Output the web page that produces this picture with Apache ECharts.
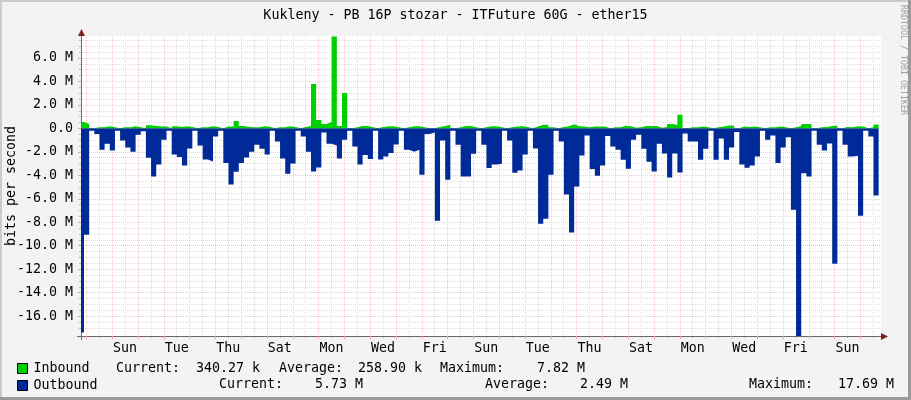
<!DOCTYPE html>
<html>
<head>
<meta charset="utf-8">
<title>Kukleny - ether15</title>
<script src="https://cdn.jsdelivr.net/npm/echarts@6/dist/echarts.min.js"></script>
<style>
html,body{margin:0;padding:0;background:#f3f3f3;}
#chart{width:911px;height:400px;}
</style>
</head>
<body>
<div id="chart"></div>
<script>
// one sample every 4.8 hours, values in Mbit/s
var slotHours = 4.8;
var inbound = [
    0.55,0.38,0.02,0.1,0.1,0.18,0.1,0,0.1,0.1,0.18,0.1,0.02,0.27,0.2,0.15,0.15,0,0.18,0.12,
    0.18,0.12,0,0.1,0.1,0.18,0.12,0,0.15,0.15,0.62,0.2,0.12,0.1,0.1,0.18,0.14,0,0.1,0.1,
    0.18,0.12,0,0.12,0.2,3.79,0.72,0.38,0.55,7.82,0.21,3.02,0,0.1,0.2,0.2,0.1,0,0.12,0.18,
    0.18,0.1,0,0.1,0.18,0.18,0.1,0.02,0.02,0.12,0.2,0.3,0,0.1,0.2,0.2,0.1,0,0.1,0.18,
    0.18,0.1,0,0.1,0.15,0.18,0.12,0,0.15,0.3,0.3,0.1,0,0.12,0.18,0.35,0.18,0.15,0.1,0.15,
    0.15,0.15,0.02,0.1,0.1,0.22,0.18,0.05,0.1,0.2,0.2,0.2,0.05,0.12,0.38,0.3,1.15,0,0.1,0.1,
    0.15,0.1,0,0.1,0.15,0.25,0.25,0,0.15,0.12,0.15,0.1,0,0.1,0.1,0.15,0.1,0,0.1,0.2,
    0.38,0.38,0.02,0.1,0.12,0.2,0.25,0,0.12,0.1,0.18,0.15,0,0.1,0.34
];
var outbound = [
    -17.4,-9.06,-0.2,-0.47,-1.83,-1.32,-1.88,-0.2,-1.03,-1.63,-2,-0.55,-0.25,-2.5,-4.1,-3.08,-0.98,-0.2,-2.23,-2.43,
    -3.16,-1.72,-0.2,-1.46,-2.65,-2.82,-0.7,-0.2,-2.94,-4.78,-3.7,-2.94,-2.48,-2,-1.4,-1.74,-2.23,-0.2,-1.12,-2.57,
    -3.87,-3,-0.2,-0.7,-2,-3.67,-3.33,-0.35,-1.32,-1.46,-2.57,-0.98,-0.2,-1.55,-3.08,-2.26,-2.62,-0.2,-2.65,-2.4,
    -2.1,-1.38,-0.2,-1.83,-2,-1.83,-3.96,-0.47,-0.35,-7.87,-1.04,-4.38,-0.2,-1.4,-4.1,-4.1,-2.17,-0.2,-1.4,-3.37,
    -3.08,-3.02,-0.2,-1.04,-3.79,-3.59,-2.23,-0.2,-1.72,-8.13,-7.7,-3.96,-0.2,-1.12,-5.63,-8.87,-4.95,-2.31,-0.6,-3.47,
    -4.04,-3.16,-0.65,-1.55,-1.83,-2.68,-3.45,-0.98,-0.55,-1.74,-2.85,-3.67,-1.32,-2.14,-4.18,-2.14,-3.76,-0.44,-1.12,-1.12,
    -2.68,-1.74,-0.2,-2.68,-0.87,-2.68,-1.63,-0.3,-3.08,-3.36,-3.16,-2.4,-0.2,-0.98,-0.6,-2.94,-1.63,-0.75,-6.94,-17.69,
    -3.82,-4.1,-0.2,-1.4,-1.89,-1.29,-11.53,-0.2,-1.4,-2.4,-2.34,-7.45,-0.2,-0.7,-5.72
];
var dayLabels = ["Sun","Tue","Thu","Sat","Mon","Wed","Fri","Sun","Tue","Thu","Sat","Mon","Wed","Fri","Sun"];
var yLabelValues = [6,4,2,0,-2,-4,-6,-8,-10,-12,-14,-16];
var inboundStats = ["340.27 k","258.90 k","7.82 M"];
var outboundStats = ["5.73 M","2.49 M","17.69 M"];

var monoFont = '"DejaVu Sans Mono", monospace';
var fontSize = 13.3;

function toPoints(values){
    var pts = [];
    for(var i=0;i<values.length;i++){
        pts.push([i*slotHours,values[i]]);
    }
    // close off the last step
    pts.push([values.length*slotHours,values[values.length-1]]);
    return pts;
}

var midnights=[],noons=[],labelHours=[];
for(var d=0;d<31;d++){
    midnights.push(7+24*d);
    noons.push(19+24*d);
}
for(var l=0;l<dayLabels.length;l++){
    labelHours.push(43+48*l);
}
var yMinor=[];
for(var v=-17;v<=7.5;v+=0.5){
    if(v%2!==0) yMinor.push(v);
}

function statText(text,x,y){
    return {type:"text",x:x,y:y,style:{text:text,fill:"#000",font:fontSize+"px "+monoFont,textVerticalAlign:"middle"}};
}

var myChart=echarts.init(document.getElementById("chart"));
var xRange={min:2.02,max:746.2};
var yRange={min:-17.69,max:7.87};

var option={
    animation:false,
    backgroundColor:"#f3f3f3",
    textStyle:{fontFamily:monoFont},
    title:{
        text:"Kukleny - PB 16P stozar - ITFuture 60G - ether15",
        left:"center",
        top:4,
        textStyle:{fontFamily:monoFont,fontSize:fontSize,fontWeight:"normal",color:"#000"}
    },
    legend:{
        orient:"vertical",
        left:17,
        top:362,
        padding:0,
        itemWidth:10,
        itemHeight:10,
        itemGap:4,
        icon:"rect",
        textStyle:{fontFamily:monoFont,fontSize:fontSize,color:"#000",padding:[0,0,0,1],lineHeight:12},
        data:[
            {name:"Inbound",itemStyle:{color:"#00cf00",borderColor:"#000",borderWidth:1}},
            {name:"Outbound",itemStyle:{color:"#002a97",borderColor:"#000",borderWidth:1}}
        ],
        selectedMode:false
    },
    grid:{left:81,top:36,width:800,height:300,show:true,backgroundColor:"#fff",borderWidth:0,outerBoundsMode:"none"},
    xAxis:[
        {
            type:"value",min:xRange.min,max:xRange.max,position:"bottom",
            axisLine:{onZero:false,lineStyle:{color:"#6b6b6b",width:1}},
            axisTick:{customValues:midnights,length:3,lineStyle:{color:"#f0a0a0"}},
            axisLabel:{show:false},
            splitLine:{show:true,lineStyle:{color:"#f9c6c6",type:[1,1],width:1}},
            z:3
        },
        {
            type:"value",min:xRange.min,max:xRange.max,position:"bottom",
            axisLine:{show:false,onZero:false},
            axisTick:{customValues:noons,length:2,lineStyle:{color:"#bbb"}},
            axisLabel:{
                customValues:labelHours,margin:6,color:"#000",fontFamily:monoFont,fontSize:fontSize,
                formatter:function(val){return dayLabels[Math.round((val-43)/48)];}
            },
            splitLine:{show:true,lineStyle:{color:"#dedede",type:[1,1],width:1}},
            z:2
        }
    ],
    yAxis:[
        {
            type:"value",min:yRange.min,max:yRange.max,position:"left",
            name:"bits per second",nameLocation:"middle",nameGap:63,nameRotate:90,nameMoveOverlap:false,
            nameTextStyle:{fontFamily:monoFont,fontSize:fontSize,color:"#000"},
            axisLine:{onZero:false,lineStyle:{color:"#6b6b6b",width:1}},
            axisTick:{customValues:yLabelValues,length:3,lineStyle:{color:"#f0a0a0"}},
            axisLabel:{
                customValues:yLabelValues,margin:8,color:"#000",fontFamily:monoFont,fontSize:fontSize,padding:[0,0,2,0],
                formatter:function(val){return val===0?"0.0":val.toFixed(1)+" M";}
            },
            splitLine:{show:true,lineStyle:{color:"#f9c6c6",type:[1,1],width:1}},
            z:3
        },
        {
            type:"value",min:yRange.min,max:yRange.max,position:"left",
            axisLine:{show:false,onZero:false},
            axisTick:{customValues:yMinor,length:2,lineStyle:{color:"#bbb"}},
            axisLabel:{show:false},
            splitLine:{show:true,lineStyle:{color:"#dedede",type:[1,1],width:1}},
            z:2
        }
    ],
    series:[
        {
            name:"Outbound",type:"line",step:"end",data:toPoints(outbound),
            xAxisIndex:0,yAxisIndex:0,showSymbol:false,z:4,
            itemStyle:{color:"#002a97"},lineStyle:{width:0},areaStyle:{color:"#002a97",opacity:1}
        },
        {
            name:"Inbound",type:"line",step:"end",data:toPoints(inbound),
            xAxisIndex:0,yAxisIndex:0,showSymbol:false,z:5,
            itemStyle:{color:"#00cf00"},lineStyle:{width:0},areaStyle:{color:"#00cf00",opacity:1}
        }
    ],
    graphic:[
        // border of the picture
        {type:"rect",shape:{x:0,y:0,width:911,height:2},style:{fill:"#cbcbcb"}},
        {type:"rect",shape:{x:0,y:0,width:2,height:400},style:{fill:"#cbcbcb"}},
        {type:"rect",shape:{x:908,y:0,width:3,height:400},style:{fill:"#9a9a9a"}},
        {type:"rect",shape:{x:0,y:397,width:911,height:3},style:{fill:"#9a9a9a"}},
        // axis stubs and arrow heads
        {type:"line",shape:{x1:77,y1:336.5,x2:81,y2:336.5},style:{stroke:"#6b6b6b",lineWidth:1},z:10},
        {type:"line",shape:{x1:81.5,y1:336,x2:81.5,y2:340},style:{stroke:"#6b6b6b",lineWidth:1},z:10},
        {type:"polygon",shape:{points:[[78,36],[85,36],[81.5,29]]},style:{fill:"#7f1f1f"},z:10},
        {type:"polygon",shape:{points:[[881,333],[881,340],[888,336.5]]},style:{fill:"#7f1f1f"},z:10},
        // watermark
        {type:"text",x:907,y:5,rotation:-Math.PI/2,style:{text:"RRDTOOL / TOBI OETIKER",fill:"#a0a0a0",font:"8.3px "+monoFont}},
        // legend stats
        statText("Current:",116,369),
        statText(inboundStats[0],196,369),
        statText("Average:",279,369),
        statText(inboundStats[1],358,369),
        statText("Maximum:",440,369),
        statText(inboundStats[2],537,369),
        statText("Current:",219,385),
        statText(outboundStats[0],315,385),
        statText("Average:",485,385),
        statText(outboundStats[1],580,385),
        statText("Maximum:",749,385),
        statText(outboundStats[2],838,385)
    ]
};
myChart.setOption(option);
</script>
</body>
</html>
